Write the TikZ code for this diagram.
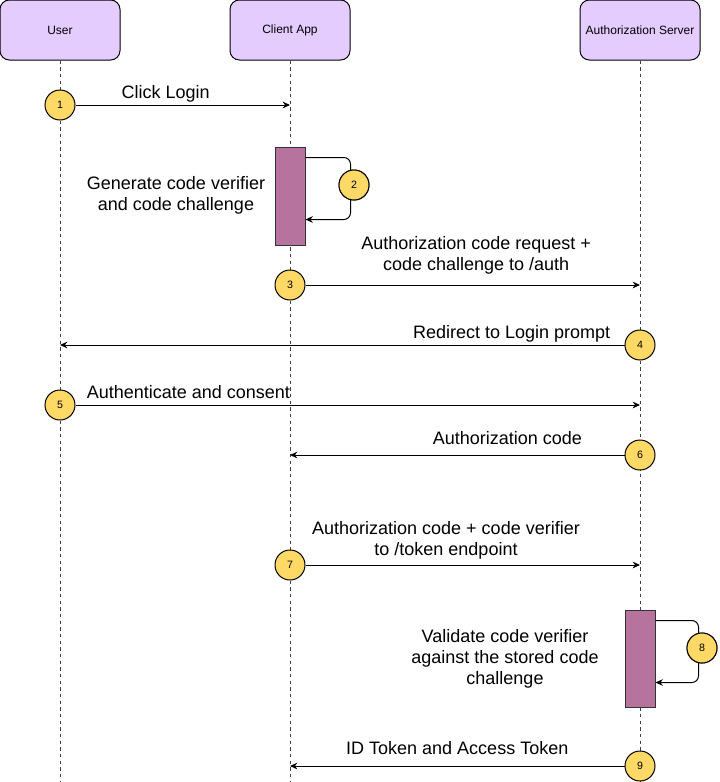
\documentclass[tikz,border=0pt]{standalone}
\usepackage{fontspec}
\setmainfont{Liberation Sans}
\usetikzlibrary{arrows.meta, positioning, calc}
\definecolor{actorfill}{HTML}{E5CCFF}
\definecolor{barfill}{HTML}{B5739D}
\definecolor{stepfill}{HTML}{FFD966}

\begin{document}
\begin{tikzpicture}[x=0.75pt, y=-0.75pt,
		actor/.style = {draw, fill=actorfill, rounded corners=7pt, line width=0.75pt,
			minimum width=90pt, minimum height=45pt, font=\fontsize{9}{10}\selectfont},
		lifeline/.style = {draw=black!75, line width=0.75pt, dash pattern=on 2.5pt off 2.5pt},
		activity/.style = {draw=black!80, fill=barfill, line width=0.75pt,
			minimum width=22.5pt, inner sep=0pt},
		stepno/.style = {circle, draw, fill=stepfill, line width=0.75pt,
			minimum size=22.5pt, inner sep=0pt, font=\fontsize{8}{9}\selectfont},
		msg/.style = {line width=0.75pt, -{Stealth[length=5.5pt, width=5pt]}},
		txt/.style = {font=\fontsize{13.5}{15.75}\selectfont, align=center}
	]
	\useasboundingbox (0,0) rectangle (719,782);
	
	% participants
	\node at (60,30) (user) [actor] {User};
	\node at (290,30) (client) [actor] {Client App};
	\node at (640,30) (auth) [actor] {Authorization Server};
	
	\coordinate (userend) at (60,782);
	\coordinate (clientend) at (290,782);
	\coordinate (authend) at (640,782);
	
	\draw [lifeline] (user.south) -- (userend);
	\draw [lifeline] (client.south) -- (clientend);
	\draw [lifeline] (auth.south) -- (authend);
	
	% activations
	\node at (290,196) (gen) [activity, minimum height=73.5pt] {};
	\node at (640,658.5) (check) [activity, minimum height=72.75pt] {};
	
	% step markers
	\node at (60,105) (s1) [stepno] {1};
	\node at (354,185) (s2) [stepno] {2};
	\node at (290,285) (s3) [stepno] {3};
	\node at (640,345) (s4) [stepno] {4};
	\node at (60,405) (s5) [stepno] {5};
	\node at (640,455) (s6) [stepno] {6};
	\node at (290,565) (s7) [stepno] {7};
	\node at (702,648) (s8) [stepno] {8};
	\node at (640,766) (s9) [stepno] {9};
	
	\node at (176,195) (gentext) [txt] {Generate code verifier\\and code challenge};
	\node at (505,659) (checktext) [txt] {Validate code verifier\\against the stored code\\challenge};
	
	% messages
	\path [msg]
	(s1) edge node[txt, above, pos=0.42, inner sep=1.5pt] {Click Login} (s1 -| client)
	(s3) edge node[txt, above, pos=0.51, inner sep=8pt] {Authorization code request +\\code challenge to /auth} (s3 -| auth)
	(s4) edge node[txt, above, pos=0.2, inner sep=2pt] {Redirect to Login prompt} (s4 -| user)
	(s5) edge node[txt, above, pos=0.2, inner sep=4.5pt] {Authenticate and consent} (s5 -| auth)
	(s6) edge node[txt, above, pos=0.35, inner sep=7pt] {Authorization code} (s6 -| client)
	(s7) edge node[txt, above, pos=0.42, inner sep=4pt] {Authorization code + code verifier\\to /token endpoint} (s7 -| auth)
	(s9) edge node[txt, above, pos=0.5, inner sep=8pt] {ID Token and Access Token} (s9 -| client);
	
	% self calls
	\draw [msg, rounded corners=5pt] ($(gen.north east)+(0,11)$) -- ++(45,0) -- ++(0,62) -- ++(-45,0);
	\draw [msg, rounded corners=5pt] ($(check.north east)+(0,11)$) -- ++(43,0) -- ++(0,62) -- ++(-43,0);
	
	% redraw markers over the loops
	\node at (s2) [stepno] {2};
	\node at (s8) [stepno] {8};
\end{tikzpicture}
\end{document}
